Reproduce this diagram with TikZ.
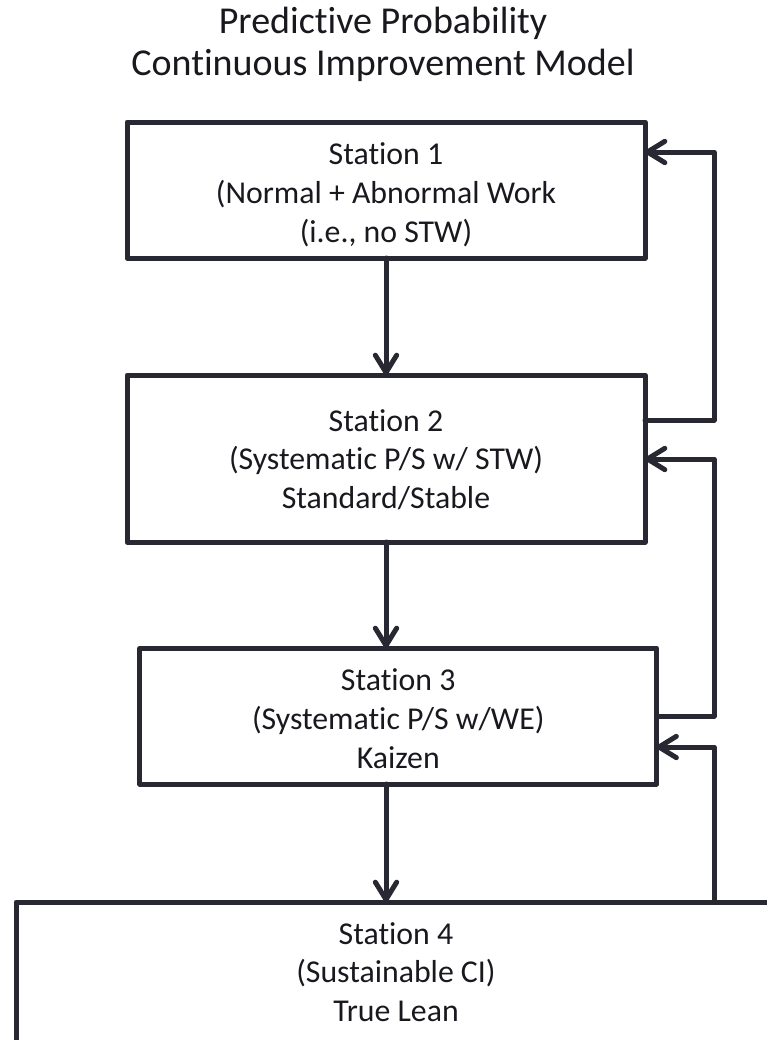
\documentclass[tikz,border=0pt]{standalone}
\usepackage{fontspec}
\setmainfont{Carlito}[Ligatures=NoCommon]
\usetikzlibrary{arrows.meta}
\definecolor{ink}{RGB}{40,40,50}
\definecolor{txt}{RGB}{24,24,30}
\newcommand{\stationfont}{\fontsize{23.85pt}{29.06pt}\selectfont}
\newcommand{\headfont}{\fontsize{28.5pt}{31.5pt}\selectfont}
% invisible struts that fix where the three text lines sit inside a box
\newcommand{\topstrut}[1]{\rule{0pt}{#1}}
\newcommand{\botstrut}{\rule[-7.5pt]{0pt}{7.5pt}}
\begin{document}
\begin{tikzpicture}[x=0.75pt,y=-0.75pt,
  stn/.style={draw=ink,line width=3.75pt,rectangle,align=center,inner sep=0pt,
    outer sep=0pt,text=txt,font=\stationfont,line join=round},
  flow/.style={draw=ink,line width=3.75pt,line cap=round,line join=round,
    -{Straight Barb[length=13pt,width=16pt,round]}}]
\useasboundingbox (0,0) rectangle (767,1040);

% heading
\node[font=\headfont,text=txt,align=center,inner sep=0pt] (title) at (383,44)
  {Predictive Probability\\Continuous Improvement Model};

% stations
\node[stn,minimum width=388.5pt,minimum height=102pt] (b1) at (386,190)
  {\topstrut{28.1pt}Station 1\\(Normal + Abnormal Work\\\botstrut(i.e., no STW)};
\node[stn,minimum width=388.5pt,minimum height=125.25pt] (b2) at (386,458.5)
  {\topstrut{24.4pt}Station 2\\(Systematic P/S w/ STW)\\\botstrut Standard/Stable};
\node[stn,minimum width=387.4pt,minimum height=102pt] (b3) at (398.25,716)
  {\topstrut{28.1pt}Station 3\\(Systematic P/S w/WE)\\\botstrut Kaizen};
\node[stn,minimum width=570pt,minimum height=105.75pt] (b4) at (396,972.5)
  {\topstrut{22.9pt}Station 4\\(Sustainable CI)\\\botstrut True Lean};

% forward flow
\draw[flow] (b1.south) -- (b1.south |- b2.north);
\draw[flow] (b2.south) -- (b2.south |- b3.north);
\draw[flow] (b3.south -| b2.south) -- (b2.south |- b4.north);

% feedback loops on the right
\coordinate (ra) at (714,420);
\coordinate (rb) at (714,152);
\coordinate (rc) at (714,716);
\coordinate (rd) at (714,459);
\coordinate (re) at (714,747);
\draw[flow] (b2.east |- ra) -- (ra) -- (rb) -- (b1.east |- rb);
\draw[flow] (b3.east |- rc) -- (rc) -- (rd) -- (b2.east |- rd);
\draw[flow] (b4.north -| re) -- (re) -- (b3.east |- re);
\end{tikzpicture}
\end{document}
